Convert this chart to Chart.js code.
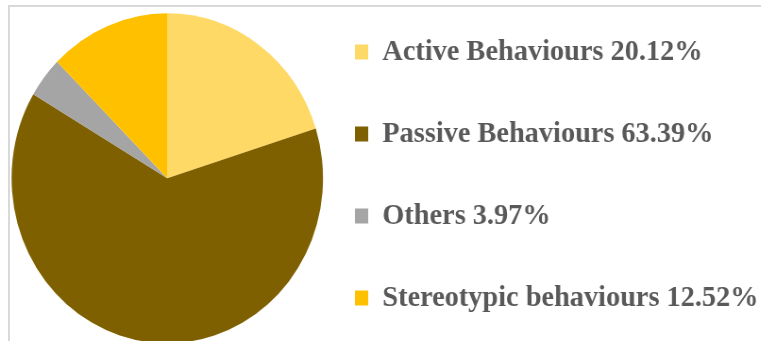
<!DOCTYPE html>
<html>
<head>
<meta charset="utf-8">
<script src="https://cdn.jsdelivr.net/npm/chart.js@4/dist/chart.umd.min.js"></script>
<style>
  html, body {
    margin: 0;
    padding: 0;
    background: #ffffff;
    width: 761px;
    height: 341px;
    overflow: hidden;
    position: relative;
  }
  .frame {
    position: absolute;
    left: 8px;
    top: 5px;
    width: 800px;
    height: 400px;
    border-left: 2px solid #d9d9d9;
    border-top: 2px solid #d9d9d9;
  }
  #behaviourChart {
    position: absolute;
    left: 0;
    top: -15px;
    transform: scaleX(0.944);
    transform-origin: 0 0;
  }
</style>
</head>
<body>
<div class="frame"></div>
<canvas id="behaviourChart" width="810" height="400"></canvas>
<script>
const categories = ["Active Behaviours", "Passive Behaviours", "Others", "Stereotypic behaviours"];
const shares = [20.12, 63.39, 3.97, 12.52];
const sliceColors = ["#FFD966", "#7F6000", "#A5A5A5", "#FFC000"];

const ctx = document.getElementById("behaviourChart").getContext("2d");

// the legend box is capped at half the width, so open it up to the
// canvas edge after layout or the long labels get clipped
const wideLegend = {
  id: "wideLegend",
  afterLayout(chart) {
    const legend = chart.legend;
    if (!legend) return;
    legend.right = chart.width;
    legend.width = legend.right - legend.left;
  }
};

const myPie = new Chart(ctx, {
  type: "pie",
  data: {
    labels: categories,
    datasets: [
      {
        data: shares,
        backgroundColor: sliceColors,
        borderWidth: 0,
        radius: 165,
      },
    ],
  },
  plugins: [wideLegend],
  options: {
    responsive: false,
    animation: false,
    layout: {
      padding: { left: 30.4, right: 192.4, top: 0, bottom: 13.4 }
    },
    plugins: {
      tooltip: { enabled: false },
      legend: {
        position: "right",
        align: "start",
        labels: {
          boxWidth: 14,
          boxHeight: 15,
          padding: 52,
          color: "#595959",
          font: {
            family: "'Liberation Serif', 'Times New Roman', serif",
            size: 30,
            weight: "bold"
          },
          generateLabels: function (chart) {
            const items = Chart.overrides.pie.plugins.legend.labels.generateLabels(chart);
            return items.map(function (item, i) {
              item.text = categories[i] + " " + shares[i].toFixed(2) + "%";
              item.lineWidth = 0;
              return item;
            });
          }
        }
      }
    }
  }
});
</script>
</body>
</html>
